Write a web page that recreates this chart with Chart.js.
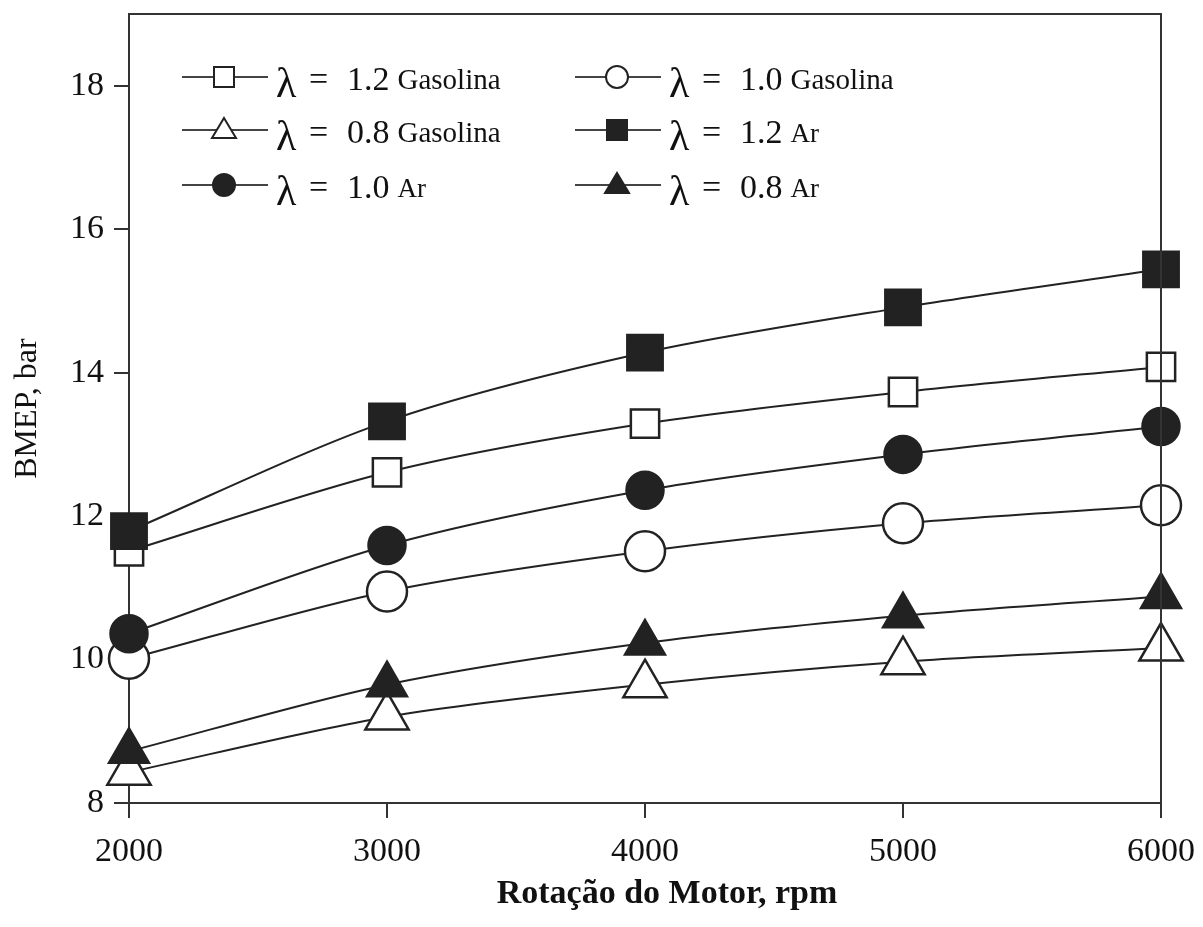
<!DOCTYPE html>
<html>
<head>
<meta charset="utf-8">
<script src="https://cdn.jsdelivr.net/npm/chart.js@4.4.1/dist/chart.umd.min.js"></script>
<style>
    body { margin: 0; background: #fff; }
    #wrap { width: 1203px; height: 927px; position: relative; }
</style>
</head>
<body>
<div id="wrap"><canvas id="bmep"></canvas></div>
<script>
// rotação do motor (rpm) e BMEP (bar)
const rpm = [2000, 3000, 4000, 5000, 6000];
const gas12 = [11.51, 12.61, 13.29, 13.73, 14.08];
const gas10 = [10.01, 10.95, 11.51, 11.90, 12.15];
const gas08 = [8.43, 9.20, 9.65, 9.97, 10.16];
const ar12 = [11.79, 13.32, 14.28, 14.91, 15.44];
const ar10 = [10.36, 11.59, 12.36, 12.86, 13.25];
const ar08 = [8.72, 9.65, 10.23, 10.61, 10.88];

const xTicks = [2000, 3000, 4000, 5000, 6000];
const yTicks = [8, 10, 12, 14, 16, 18];

const INK = "#222";
const SERIF = "'Liberation Serif', 'Times New Roman', serif";

function serie(label, fuel, valores, estilo, cheio, raio) {
    return {
        label: label,
        fuel: fuel,
        data: rpm.map((x, i) => ({ x: x, y: valores[i] })),
        borderColor: INK,
        borderWidth: 2,
        tension: 0.3,
        pointStyle: estilo,
        pointRadius: raio,
        pointBorderWidth: 2.5,
        pointBorderColor: INK,
        pointBackgroundColor: cheio ? INK : "#fff",
        clip: false,
    };
}

// Ar primeiro para ficar por cima das séries de gasolina
const datasets = [
    serie("1.2", "Ar", ar12, "rect", true, 25),
    serie("1.0", "Ar", ar10, "circle", true, 18.5),
    serie("0.8", "Ar", ar08, "triangle", true, 23),
    serie("1.2", "Gasolina", gas12, "rect", false, 20),
    serie("1.0", "Gasolina", gas10, "circle", false, 20),
    serie("0.8", "Gasolina", gas08, "triangle", false, 25),
];

// ordem da legenda (linhas x colunas)
const legendOrder = [3, 4, 5, 0, 1, 2];

function marcador(ctx, estilo, cheio, x, y) {
    ctx.save();
    ctx.lineWidth = 2;
    ctx.strokeStyle = INK;
    ctx.fillStyle = cheio ? INK : "#fff";
    ctx.beginPath();
    if (estilo === "rect") {
        ctx.rect(x - 10, y - 10, 20, 20);
    } else if (estilo === "circle") {
        ctx.arc(x, y, 11, 0, Math.PI * 2);
    } else {
        ctx.moveTo(x, y - 12);
        ctx.lineTo(x + 12, y + 8);
        ctx.lineTo(x - 12, y + 8);
        ctx.closePath();
    }
    ctx.fill();
    ctx.stroke();
    ctx.restore();
}

const moldura = {
    id: "moldura",
    afterDraw(chart) {
        const ctx = chart.ctx;
        const a = chart.chartArea;
        ctx.save();
        ctx.strokeStyle = "#333";
        ctx.lineWidth = 2;
        ctx.beginPath();
        ctx.moveTo(a.left, a.top);
        ctx.lineTo(a.right, a.top);
        ctx.lineTo(a.right, a.bottom);
        ctx.stroke();

        // título do eixo x
        ctx.fillStyle = "#111";
        ctx.textAlign = "center";
        ctx.textBaseline = "alphabetic";
        ctx.font = "bold 34px " + SERIF;
        ctx.fillText("Rotação do Motor, rpm", 667, 903);

        // legenda dentro da área do gráfico
        const cols = [182, 575];
        const rows = [77, 130, 185];
        legendOrder.forEach((idx, k) => {
            const ds = chart.data.datasets[idx];
            const x0 = cols[k % 2];
            const y = rows[Math.floor(k / 2)];
            ctx.strokeStyle = "#444";
            ctx.lineWidth = 2;
            ctx.beginPath();
            ctx.moveTo(x0, y);
            ctx.lineTo(x0 + 86, y);
            ctx.stroke();
            marcador(ctx, ds.pointStyle, ds.pointBackgroundColor !== "#fff", x0 + 42, y);

            ctx.fillStyle = "#111";
            ctx.textAlign = "left";
            ctx.font = "42px " + SERIF;
            ctx.fillText("λ", x0 + 94, y + 20);
            ctx.font = "34px " + SERIF;
            ctx.fillText("=", x0 + 127, y + 13);
            ctx.fillText(ds.label, x0 + 165, y + 13);
            const w = ctx.measureText(ds.label).width;
            ctx.font = (ds.fuel === "Ar" ? "27px " : "29px ") + SERIF;
            ctx.fillText(ds.fuel, x0 + 165 + w + 8, y + 12);
        });
        ctx.restore();
    },
};

new Chart(document.getElementById("bmep"), {
    type: "line",
    data: { datasets: datasets },
    options: {
        responsive: true,
        maintainAspectRatio: false,
        animation: false,
        layout: { autoPadding: false, padding: { left: 0, right: 42, top: 14, bottom: 0 } },
        scales: {
            x: {
                type: "linear",
                min: 2000,
                max: 6000,
                afterBuildTicks: (s) => { s.ticks = xTicks.map((v) => ({ value: v })); },
                afterFit: (s) => {
                    s.height = 124;
                    s.paddingLeft = 0;
                    s.paddingRight = 0;
                },
                grid: { drawOnChartArea: false, tickLength: 15, color: "#333", lineWidth: 2 },
                border: { color: "#333", width: 2 },
                ticks: {
                    font: { family: SERIF, size: 34 },
                    color: "#111",
                    padding: 14,
                    maxRotation: 0,
                    callback: (v) => String(v),
                },
            },
            y: {
                min: 8,
                max: 19,
                afterBuildTicks: (s) => { s.ticks = yTicks.map((v) => ({ value: v })); },
                afterFit: (s) => {
                    s.width = 129;
                    s.paddingTop = 0;
                    s.paddingBottom = 0;
                },
                grid: { drawOnChartArea: false, tickLength: 15, color: "#333", lineWidth: 2 },
                border: { color: "#333", width: 2 },
                ticks: {
                    font: { family: SERIF, size: 34 },
                    color: "#111",
                    padding: 10,
                },
                title: {
                    display: true,
                    text: "BMEP, bar",
                    font: { family: SERIF, size: 32 },
                    color: "#111",
                    padding: { top: 8, bottom: 0 },
                },
            },
        },
        plugins: {
            legend: { display: false },
            tooltip: { enabled: false },
        },
    },
    plugins: [moldura],
});
</script>
</body>
</html>
